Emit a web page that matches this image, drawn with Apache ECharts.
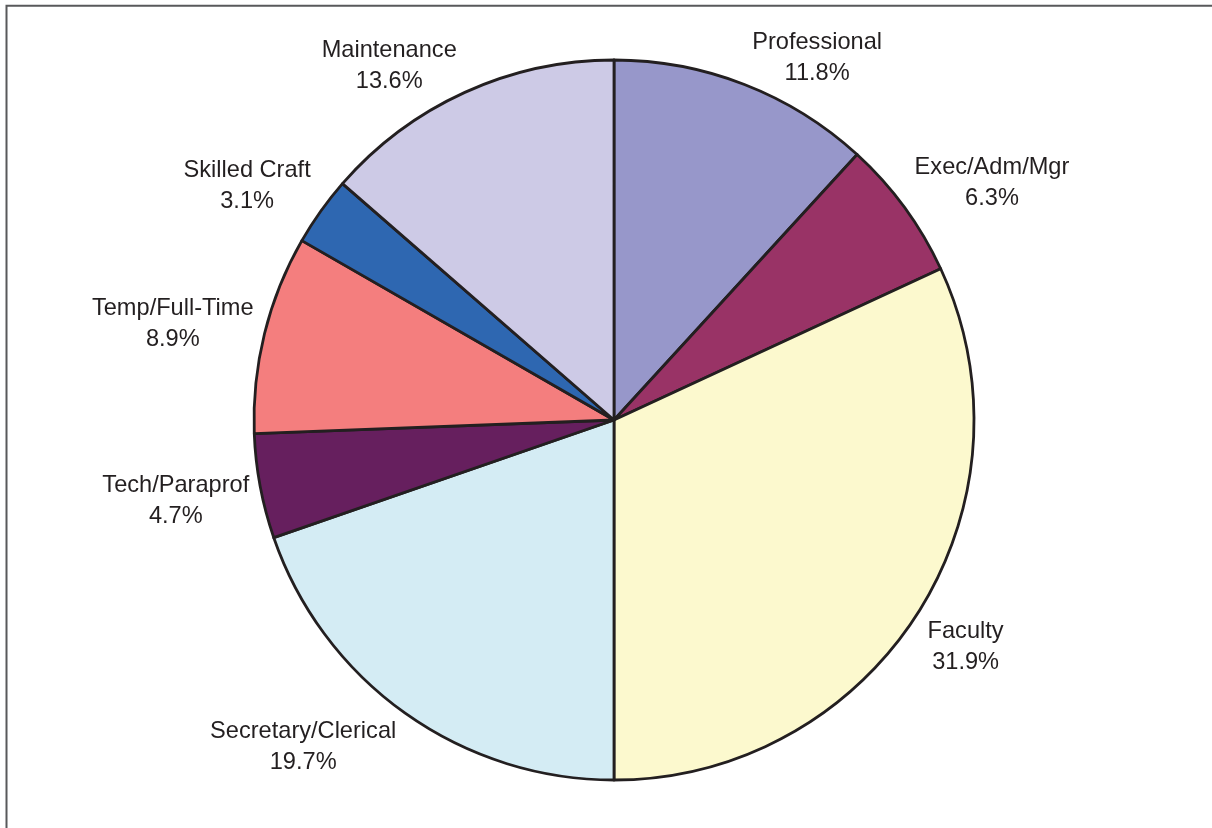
<!DOCTYPE html>
<html>
<head>
<meta charset="utf-8">
<script src="https://cdn.jsdelivr.net/npm/echarts@6/dist/echarts.min.js"></script>
<style>
  html, body { margin: 0; padding: 0; background: #fff; }
  #chart { width: 1212px; height: 828px; }
</style>
</head>
<body>
<div id="chart"></div>
<script>
const categories = ['Professional', 'Exec/Adm/Mgr', 'Faculty', 'Secretary/Clerical', 'Tech/Paraprof', 'Temp/Full-Time', 'Skilled Craft', 'Maintenance'];
const values = [11.8, 6.3, 31.9, 19.7, 4.7, 8.9, 3.1, 13.6];
const colors = ['#9797CA', '#993366', '#FCF9CE', '#D4ECF4', '#661F5E', '#F47E7E', '#2E67B1', '#CDCAE6'];

const CENTER = [614, 420];
const RADIUS = 360;
const GAP = 5;

const chart = echarts.init(document.getElementById('chart'), null, { renderer: 'canvas' });

function layoutLabel(params) {
  const lr = params.labelRect;
  const pts = params.labelLinePoints;
  let dx, dy, px, py;
  if (pts && pts.length >= 2) {
    const vx = pts[1][0] - pts[0][0], vy = pts[1][1] - pts[0][1];
    const len = Math.sqrt(vx * vx + vy * vy) || 1;
    dx = vx / len; dy = vy / len;
    px = pts[0][0] + dx * GAP; py = pts[0][1] + dy * GAP;
  } else {
    const cx = lr.x + lr.width / 2 - CENTER[0], cy = lr.y + lr.height / 2 - CENTER[1];
    const len = Math.sqrt(cx * cx + cy * cy) || 1;
    dx = cx / len; dy = cy / len;
    px = CENTER[0] + dx * (RADIUS + GAP); py = CENTER[1] + dy * (RADIUS + GAP);
  }
  const sx = dx < 0 ? -1 : 1;
  const fy = Math.max(-1, Math.min(1, dy * 2));
  return {
    x: px + sx * (lr.width / 2 + 6),
    y: py + fy * (lr.height / 2 - 5) + 4,
    align: 'center',
    verticalAlign: 'middle'
  };
}

const option = {
  animation: false,
  backgroundColor: '#ffffff',
  graphic: [{
    type: 'rect',
    silent: true,
    shape: { x: 6.5, y: 5.8, width: 1400, height: 1000 },
    style: { fill: 'none', stroke: '#58595B', lineWidth: 2 }
  }],
  series: [{
    type: 'pie',
    center: CENTER,
    radius: RADIUS,
    startAngle: 90,
    clockwise: true,
    avoidLabelOverlap: false,
    silent: true,
    data: categories.map((n, i) => ({ name: n, value: values[i], itemStyle: { color: colors[i] } })),
    itemStyle: { borderColor: '#231F20', borderWidth: 2.8 },
    label: {
      show: true,
      position: 'outside',
      formatter: p => p.name + '\n' + p.value.toFixed(1) + '%',
      fontFamily: '"Liberation Sans", Arial, sans-serif',
      fontSize: 23.6,
      lineHeight: 31,
      color: '#231F20'
    },
    labelLine: { show: true, length: 10, length2: 0, lineStyle: { opacity: 0 } },
    labelLayout: layoutLabel,
    emphasis: { disabled: true }
  }]
};

chart.setOption(option);
</script>
</body>
</html>
